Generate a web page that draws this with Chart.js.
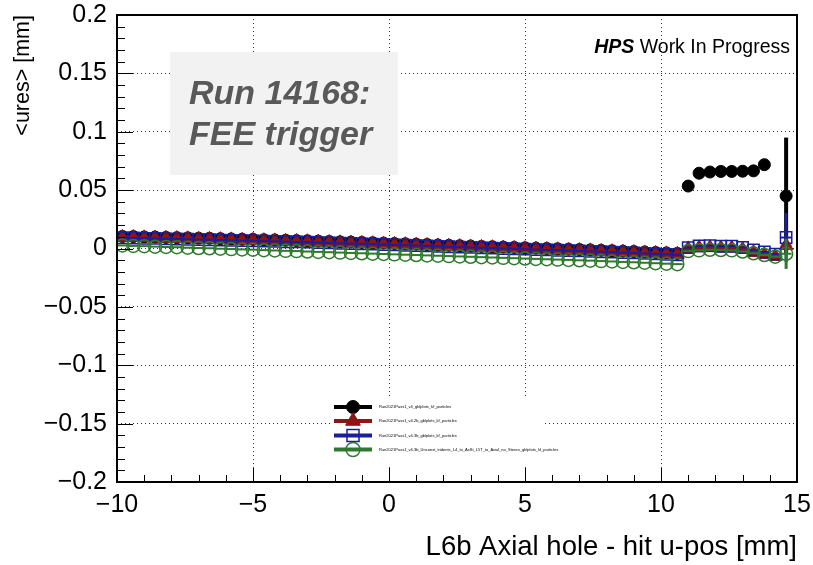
<!DOCTYPE html>
<html>
<head>
<meta charset="utf-8">
<script src="https://cdn.jsdelivr.net/npm/chart.js@4.4.1/dist/chart.umd.min.js"></script>
<style>
    html, body { margin: 0; padding: 0; background: #fff; }
    #wrap { width: 813px; height: 565px; }
</style>
</head>
<body>
<div id="wrap"><canvas id="chartUres" width="813" height="565"></canvas></div>
<script>
// bin centres (0.4 mm bins)
const xBins = [
    -9.8, -9.4, -9.0, -8.6, -8.2, -7.8, -7.4, -7.0, -6.6, -6.2,
    -5.8, -5.4, -5.0, -4.6, -4.2, -3.8, -3.4, -3.0, -2.6, -2.2,
    -1.8, -1.4, -1.0, -0.6, -0.2, 0.2, 0.6, 1.0, 1.4, 1.8,
    2.2, 2.6, 3.0, 3.4, 3.8, 4.2, 4.6, 5.0, 5.4, 5.8,
    6.2, 6.6, 7.0, 7.4, 7.8, 8.2, 8.6, 9.0, 9.4, 9.8,
    10.2, 10.6, 11.0, 11.4, 11.8, 12.2, 12.6, 13.0, 13.4, 13.8,
    14.2, 14.6
];
const binHalfWidth = 0.2;

const resV4 = [
    0.0103, 0.0102, 0.0099, 0.0098, 0.0095, 0.0093, 0.0091, 0.0088, 0.0087, 0.0084,
    0.0082, 0.0079, 0.0078, 0.0075, 0.0073, 0.0070, 0.0068, 0.0066, 0.0063, 0.0060,
    0.0057, 0.0055, 0.0052, 0.0049, 0.0046, 0.0043, 0.0040, 0.0037, 0.0034, 0.0030,
    0.0027, 0.0024, 0.0021, 0.0018, 0.0015, 0.0012, 0.0009, 0.0006, 0.0003, 0.0000,
    -0.0003, -0.0006, -0.0009, -0.0012, -0.0016, -0.0019, -0.0023, -0.0026, -0.0030, -0.0034,
    -0.0038, -0.0042, 0.0535, 0.0645, 0.0655, 0.0660, 0.0660, 0.0662, 0.0665, 0.0718,
    null, 0.0450
];
const errV4 = [
    0.0003, 0.0003, 0.0003, 0.0003, 0.0003, 0.0003, 0.0003, 0.0003, 0.0003, 0.0003,
    0.0003, 0.0003, 0.0003, 0.0003, 0.0003, 0.0003, 0.0003, 0.0003, 0.0003, 0.0003,
    0.0003, 0.0003, 0.0003, 0.0003, 0.0003, 0.0003, 0.0003, 0.0003, 0.0003, 0.0003,
    0.0003, 0.0003, 0.0003, 0.0003, 0.0003, 0.0003, 0.0003, 0.0003, 0.0003, 0.0003,
    0.0003, 0.0003, 0.0003, 0.0003, 0.0003, 0.0003, 0.0003, 0.0003, 0.0003, 0.0004,
    0.0004, 0.0005, 0.0012, 0.0010, 0.0010, 0.0010, 0.0010, 0.0011, 0.0012, 0.0018,
    null, 0.0500
];

const resV42b = [
    0.0095, 0.0094, 0.0091, 0.0090, 0.0087, 0.0085, 0.0083, 0.0080, 0.0079, 0.0076,
    0.0074, 0.0071, 0.0070, 0.0067, 0.0065, 0.0062, 0.0060, 0.0058, 0.0055, 0.0052,
    0.0049, 0.0047, 0.0044, 0.0041, 0.0038, 0.0035, 0.0032, 0.0029, 0.0026, 0.0022,
    0.0019, 0.0016, 0.0013, 0.0010, 0.0007, 0.0004, 0.0001, -0.0002, -0.0005, -0.0008,
    -0.0011, -0.0014, -0.0017, -0.0020, -0.0024, -0.0027, -0.0031, -0.0034, -0.0038, -0.0042,
    -0.0046, -0.0050, -0.0004, 0.0006, 0.0007, 0.0004, 0.0003, -0.0008, -0.0035, -0.0052,
    -0.0068, 0.0025
];
const errV42b = [
    0.0003, 0.0003, 0.0003, 0.0003, 0.0003, 0.0003, 0.0003, 0.0003, 0.0003, 0.0003,
    0.0003, 0.0003, 0.0003, 0.0003, 0.0003, 0.0003, 0.0003, 0.0003, 0.0003, 0.0003,
    0.0003, 0.0003, 0.0003, 0.0003, 0.0003, 0.0003, 0.0003, 0.0003, 0.0003, 0.0003,
    0.0003, 0.0003, 0.0003, 0.0003, 0.0003, 0.0003, 0.0003, 0.0003, 0.0003, 0.0003,
    0.0003, 0.0003, 0.0003, 0.0003, 0.0003, 0.0003, 0.0003, 0.0003, 0.0003, 0.0004,
    0.0004, 0.0005, 0.0005, 0.0004, 0.0004, 0.0004, 0.0004, 0.0004, 0.0005, 0.0006,
    0.0008, 0.0080
];

const resV43b = [
    0.0091, 0.0090, 0.0087, 0.0086, 0.0083, 0.0081, 0.0079, 0.0076, 0.0075, 0.0072,
    0.0070, 0.0067, 0.0066, 0.0063, 0.0061, 0.0058, 0.0056, 0.0054, 0.0051, 0.0048,
    0.0045, 0.0043, 0.0040, 0.0037, 0.0034, 0.0031, 0.0028, 0.0025, 0.0022, 0.0018,
    0.0015, 0.0012, 0.0009, 0.0006, 0.0003, 0.0000, -0.0003, -0.0006, -0.0009, -0.0012,
    -0.0015, -0.0018, -0.0021, -0.0024, -0.0028, -0.0031, -0.0035, -0.0038, -0.0042, -0.0046,
    -0.0050, -0.0054, 0.0008, 0.0022, 0.0024, 0.0019, 0.0021, 0.0009, -0.0012, -0.0030,
    -0.0048, 0.0094
];
const errV43b = [
    0.0003, 0.0003, 0.0003, 0.0003, 0.0003, 0.0003, 0.0003, 0.0003, 0.0003, 0.0003,
    0.0003, 0.0003, 0.0003, 0.0003, 0.0003, 0.0003, 0.0003, 0.0003, 0.0003, 0.0003,
    0.0003, 0.0003, 0.0003, 0.0003, 0.0003, 0.0003, 0.0003, 0.0003, 0.0003, 0.0003,
    0.0003, 0.0003, 0.0003, 0.0003, 0.0003, 0.0003, 0.0003, 0.0003, 0.0003, 0.0003,
    0.0003, 0.0003, 0.0003, 0.0003, 0.0003, 0.0003, 0.0003, 0.0003, 0.0003, 0.0004,
    0.0004, 0.0005, 0.0005, 0.0004, 0.0004, 0.0004, 0.0004, 0.0004, 0.0005, 0.0006,
    0.0008, 0.0210
];

const resUnconst = [
    0.0026, 0.0022, 0.0020, 0.0016, 0.0013, 0.0011, 0.0007, 0.0004, 0.0002, -0.0002,
    -0.0005, -0.0008, -0.0010, -0.0014, -0.0017, -0.0020, -0.0022, -0.0026, -0.0029, -0.0032,
    -0.0035, -0.0038, -0.0041, -0.0044, -0.0047, -0.0050, -0.0053, -0.0056, -0.0059, -0.0062,
    -0.0065, -0.0068, -0.0071, -0.0074, -0.0077, -0.0080, -0.0083, -0.0086, -0.0089, -0.0092,
    -0.0095, -0.0098, -0.0101, -0.0104, -0.0108, -0.0111, -0.0115, -0.0118, -0.0122, -0.0126,
    -0.0130, -0.0134, -0.0022, -0.0016, -0.0011, -0.0013, -0.0016, -0.0026, -0.0041, -0.0056,
    -0.0070, -0.0045
];
const errUnconst = [
    0.0003, 0.0003, 0.0003, 0.0003, 0.0003, 0.0003, 0.0003, 0.0003, 0.0003, 0.0003,
    0.0003, 0.0003, 0.0003, 0.0003, 0.0003, 0.0003, 0.0003, 0.0003, 0.0003, 0.0003,
    0.0003, 0.0003, 0.0003, 0.0003, 0.0003, 0.0003, 0.0003, 0.0003, 0.0003, 0.0003,
    0.0003, 0.0003, 0.0003, 0.0003, 0.0003, 0.0003, 0.0003, 0.0003, 0.0003, 0.0003,
    0.0003, 0.0003, 0.0003, 0.0003, 0.0003, 0.0003, 0.0003, 0.0003, 0.0003, 0.0004,
    0.0004, 0.0005, 0.0005, 0.0004, 0.0004, 0.0004, 0.0004, 0.0004, 0.0005, 0.0006,
    0.0008, 0.0130
];

const seriesLabels = [
    "Run2021Pass1_v4_gblplots_kf_particles",
    "Run2021Pass1_v4.2b_gblplots_kf_particles",
    "Run2021Pass1_v4.3b_gblplots_kf_particles",
    "Run2021Pass1_v4.3b_Unconst_tridents_L4_to_AxSt_L5T_to_Axial_no_Stereo_gblplots_kf_particles"
];
const runText = ["Run 14168:", "FEE trigger"];
const xTitle = "L6b Axial hole - hit u-pos [mm]";
const yTitle = "<ures> [mm]";

const FONT = "'Liberation Sans', Arial, Helvetica, sans-serif";

const toPoints = (values, errors) => xBins
    .map((x, i) => ({x: x, y: values[i], err: errors[i]}))
    .filter(p => p.y !== null);

const fmtTick = (v) => {
    const s = parseFloat(Number(v).toFixed(2)).toString();
    return s.replace("-", "\u2212");
};

// x error (bin width) and y error bars, drawn under each dataset's markers
const errorBarsPlugin = {
    id: "errorBars",
    beforeDatasetDraw(chart, args) {
        const ds = chart.data.datasets[args.index];
        const {ctx, chartArea: a, scales: {x, y}} = chart;
        ctx.save();
        ctx.beginPath();
        ctx.rect(a.left, a.top, a.right - a.left, a.bottom - a.top);
        ctx.clip();
        ctx.strokeStyle = ds.borderColor;
        ds.data.forEach(p => {
            const px = x.getPixelForValue(p.x);
            const py = y.getPixelForValue(p.y);
            ctx.lineWidth = 2;
            ctx.beginPath();
            ctx.moveTo(x.getPixelForValue(p.x - binHalfWidth), py);
            ctx.lineTo(x.getPixelForValue(p.x + binHalfWidth), py);
            ctx.stroke();
            ctx.lineWidth = ds.errorWidth;
            ctx.beginPath();
            ctx.moveTo(px, y.getPixelForValue(p.y + p.err));
            ctx.lineTo(px, y.getPixelForValue(p.y - p.err));
            ctx.stroke();
        });
        ctx.restore();
    }
};

// ROOT-like frame with inward ticks, legend and labels
const decorPlugin = {
    id: "decor",
    afterDraw(chart) {
        const {ctx, chartArea: a, scales: {x, y}} = chart;
        ctx.save();

        // inward ticks
        ctx.strokeStyle = "#000";
        ctx.lineWidth = 1;
        ctx.beginPath();
        for (let v = -10; v <= 15; v++) {
            const px = Math.round(x.getPixelForValue(v)) + 0.5;
            const len = (v % 5 === 0) ? 14 : 7;
            ctx.moveTo(px, a.bottom);
            ctx.lineTo(px, a.bottom - len);
        }
        for (let k = -20; k <= 20; k++) {
            const py = Math.round(y.getPixelForValue(k / 100)) + 0.5;
            const len = (k % 5 === 0) ? 16 : 8;
            ctx.moveTo(a.left, py);
            ctx.lineTo(a.left + len, py);
        }
        ctx.stroke();

        // frame
        ctx.lineWidth = 2;
        ctx.strokeRect(a.left, a.top, a.right - a.left, a.bottom - a.top);

        // legend
        ctx.fillStyle = "#fff";
        ctx.fillRect(331, 399, 212, 67);
        const rowY = [407, 421, 435.5, 449.5];
        chart.data.datasets.forEach((ds, i) => {
            const ry = rowY[i];
            ctx.strokeStyle = ds.borderColor;
            ctx.lineWidth = 4;
            ctx.beginPath();
            ctx.moveTo(334, ry);
            ctx.lineTo(372, ry);
            ctx.stroke();
            ctx.fillStyle = ds.backgroundColor;
            ctx.lineWidth = ds.pointBorderWidth;
            Chart.helpers.drawPoint(ctx, {
                pointStyle : ds.pointStyle,
                radius     : ds.pointRadius + 0.5,
                rotation   : 0,
                borderWidth: ds.pointBorderWidth
            }, 353, ry);
            ctx.fillStyle = "#000";
            ctx.font = "4px " + FONT;
            ctx.textAlign = "left";
            ctx.textBaseline = "middle";
            ctx.fillText(ds.label, 379, ry);
        });

        // run label box
        ctx.fillStyle = "#f2f2f2";
        ctx.fillRect(170, 52, 228, 123);
        ctx.fillStyle = "#595959";
        ctx.font = "italic bold 34px " + FONT;
        ctx.textAlign = "left";
        ctx.textBaseline = "alphabetic";
        ctx.fillText(runText[0], 189, 104);
        ctx.fillText(runText[1], 189, 145);

        // HPS Work In Progress
        ctx.fillStyle = "#000";
        ctx.font = "19.5px " + FONT;
        const wip = " Work In Progress";
        const wWip = ctx.measureText(wip).width;
        ctx.textAlign = "right";
        ctx.fillText(wip, 790, 53);
        ctx.font = "italic bold 19.5px " + FONT;
        ctx.fillText("HPS", 790 - wWip, 53);

        ctx.restore();
    }
};

Chart.defaults.font.family = FONT;
Chart.defaults.color = "#000";

new Chart(document.getElementById("chartUres"), {
    type   : "scatter",
    data   : {
        datasets: [
            {
                label           : seriesLabels[0],
                data            : toPoints(resV4, errV4),
                pointStyle      : "circle",
                pointRadius     : 6,
                pointBorderWidth: 1,
                borderColor     : "#000000",
                backgroundColor : "#000000",
                errorWidth      : 4,
                order           : 4
            },
            {
                label           : seriesLabels[1],
                data            : toPoints(resV42b, errV42b),
                pointStyle      : "triangle",
                pointRadius     : 8,
                pointBorderWidth: 1,
                borderColor     : "#8f1414",
                backgroundColor : "#8f1414",
                errorWidth      : 3,
                order           : 3
            },
            {
                label           : seriesLabels[2],
                data            : toPoints(resV43b, errV43b),
                pointStyle      : "rect",
                pointRadius     : 8,
                pointBorderWidth: 1.5,
                borderColor     : "#1c1c9e",
                backgroundColor : "rgba(0,0,0,0)",
                errorWidth      : 3,
                order           : 2
            },
            {
                label           : seriesLabels[3],
                data            : toPoints(resUnconst, errUnconst),
                pointStyle      : "circle",
                pointRadius     : 6.5,
                pointBorderWidth: 1.5,
                borderColor     : "#2d7a2d",
                backgroundColor : "rgba(0,0,0,0)",
                errorWidth      : 3,
                order           : 1
            }
        ]
    },
    options: {
        responsive: false,
        animation : false,
        layout    : {padding: {top: 15, right: 16, left: 0, bottom: 0}},
        plugins   : {legend: {display: false}, tooltip: {enabled: false}},
        scales    : {
            x: {
                type    : "linear",
                min     : -10,
                max     : 15,
                afterFit: (s) => { s.height = 83; s.paddingLeft = 0; s.paddingRight = 0; },
                grid    : {drawTicks: false, color: "#333", lineWidth: 1},
                border  : {display: false, dash: [1, 3]},
                ticks   : {stepSize: 5, padding: 8, maxRotation: 0, autoSkip: false,
                           font: {size: 25}, color: "#000", callback: fmtTick},
                title   : {display: true, text: xTitle, align: "end",
                           font: {size: 27.5}, color: "#000", padding: {top: 0, bottom: 1}}
            },
            y: {
                type    : "linear",
                min     : -0.2,
                max     : 0.2,
                afterFit: (s) => { s.width = 117; s.paddingTop = 0; s.paddingBottom = 0; },
                grid    : {drawTicks: false, color: "#333", lineWidth: 1},
                border  : {display: false, dash: [1, 3]},
                ticks   : {stepSize: 0.05, padding: 10, autoSkip: false,
                           font: {size: 25}, color: "#000", callback: fmtTick},
                title   : {display: true, text: yTitle, align: "end",
                           font: {size: 21.5}, color: "#000", padding: {top: 10, bottom: 0}}
            }
        }
    },
    plugins: [errorBarsPlugin, decorPlugin]
});
</script>
</body>
</html>
